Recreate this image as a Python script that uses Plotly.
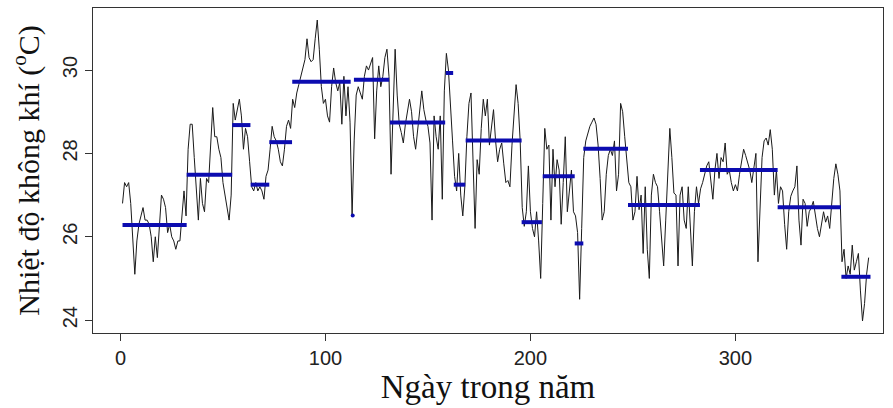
import plotly.graph_objects as go

# Daily air temperature (°C), days 1..365
temp = [
    26.8, 27.3, 27.2, 27.3, 26.8, 25.9, 25.1, 25.9, 26.3, 26.5,
    26.7, 26.4, 26.4, 26.3, 26.0, 25.4, 26.0, 25.5, 26.3, 27.0,
    26.9, 26.7, 26.1, 26.3, 26.0, 25.9, 25.7, 25.9, 25.9, 26.5,
    27.1, 26.5, 28.1, 28.7, 28.7, 27.9, 27.0, 26.4, 27.4, 26.8,
    26.6, 27.4, 27.3, 28.1, 29.1, 28.4, 28.4, 28.1, 27.9, 27.3,
    27.0, 26.6, 26.4, 27.0, 29.2, 28.8, 29.05, 29.3, 28.9, 28.1,
    28.6, 28.4, 27.8, 27.2, 27.1, 27.3, 27.1, 27.2, 27.1, 26.9,
    27.45, 27.6, 28.1, 28.65, 28.4, 28.3, 28.1, 27.8, 27.7, 28.1,
    28.65, 28.8, 28.6, 29.3, 29.1, 29.45, 29.65, 29.85, 30.1, 30.25,
    30.75, 30.3, 30.2, 30.25, 30.75, 31.2, 30.5, 29.6, 29.2, 29.3,
    28.9, 28.75, 29.6, 30.05, 29.7, 29.5, 29.7, 28.7, 29.85, 28.9,
    29.6, 28.75, 26.5, 28.3, 29.4, 29.6, 29.45, 29.3, 29.85, 30.1,
    30.0, 30.15, 30.3, 28.35, 29.5, 30.1, 29.6, 29.85, 30.3, 30.5,
    29.85, 27.5, 28.9, 30.5, 29.4, 28.7, 28.5, 28.25, 28.7, 29.05,
    29.3, 29.0, 28.4, 28.1, 28.6, 29.1, 29.5, 29.05, 28.8, 28.65,
    28.25, 26.4, 28.9, 28.4, 28.1, 28.9, 26.9, 29.5, 30.4, 30.0,
    29.0, 28.3, 27.45, 27.1, 28.0, 27.0, 26.5, 27.2, 28.4, 29.2,
    29.45, 27.8, 26.2, 27.85, 27.5, 28.6, 29.3, 28.9, 29.3, 28.2,
    28.6, 29.05, 28.3, 27.8, 28.1, 28.25, 27.75, 27.3, 27.35, 27.2,
    28.2, 29.0, 29.65, 29.2, 28.3, 26.7, 26.25, 26.6, 27.7, 26.6,
    26.2, 26.0, 26.6, 25.9, 25.0, 26.8, 28.6, 28.1, 28.2, 26.4,
    28.1, 27.2, 27.85, 27.6, 26.3, 27.3, 28.4, 26.6, 27.1, 27.6,
    26.6, 26.5, 26.1, 24.5, 26.2, 27.9, 28.3, 28.5, 28.65, 28.75,
    28.85, 28.7, 28.2, 27.4, 26.4, 26.6, 27.5, 27.95, 28.1, 27.95,
    28.3, 27.1, 27.5, 29.2, 29.0, 28.4, 27.85, 27.3, 27.2, 26.4,
    26.6, 27.45, 26.65, 27.0, 25.6, 27.2, 25.7, 25.0, 27.0, 27.5,
    27.3, 27.2, 26.6, 25.9, 25.3, 26.4, 27.45, 28.6, 27.9, 27.05,
    27.0, 25.3, 27.0, 27.2, 26.4, 26.2, 27.2, 26.3, 25.3, 26.6,
    27.2, 26.8, 27.15, 27.3, 27.5, 27.7, 27.8, 27.4, 26.9, 27.6,
    28.0, 27.4, 27.9, 27.8, 28.25, 27.5, 27.6, 27.3, 27.1, 27.25,
    27.1, 27.5, 27.85, 28.1, 27.95, 27.75, 27.6, 27.3, 27.7, 28.0,
    25.4, 26.9, 27.9, 28.3, 28.37, 28.2, 28.57, 28.1, 27.0, 27.6,
    26.8, 27.2, 27.1, 26.3, 25.7, 26.6, 26.97, 27.1, 27.2, 27.7,
    26.4, 25.8, 26.9, 26.8, 26.25, 26.6, 26.7, 26.85, 26.5, 26.2,
    26.0, 26.3, 26.6, 26.35, 26.5, 26.2, 26.9, 27.4, 27.75, 27.5,
    27.1, 25.4, 25.7, 25.0, 25.3, 25.1, 25.8, 25.2, 25.4, 25.6,
    24.7, 23.98, 24.4, 25.1, 25.5,
]
days = list(range(1, len(temp) + 1))

# Segment (regime) means: start day, end day, mean level
seg_start = [1, 32.3, 54.5, 63.5, 72.6, 83.8, 113.3, 113.9, 131.5, 158.7,
             162.6, 168.4, 195.7, 206.0, 221.6, 225.8, 247.6, 282.7, 320.6, 351.7]
seg_end = [32.3, 54.5, 63.4, 72.6, 83.7, 112.3, 113.3, 131.1, 158.4, 162.3,
           168.2, 195.7, 205.6, 221.6, 225.8, 247.6, 282.7, 320.6, 351.5, 365.9]
seg_mean = [26.28, 27.49, 28.68, 27.25, 28.27, 29.72, 26.51, 29.77, 28.74, 29.93,
            27.25, 28.31, 26.35, 27.45, 25.84, 28.11, 26.76, 27.60, 26.71, 25.04]

x_ticks = [0, 100, 200, 300]
y_ticks = [24, 26, 28, 30]
x_range = [-13.4, 372.0]

BLUE = "#0c0cb0"

fig = go.Figure()
fig.add_trace(go.Scatter(x=days, y=temp, mode="lines",
                         line=dict(color="#1a1a1a", width=1),
                         hoverinfo="skip", showlegend=False))

sx, sy = [], []
for a, b, m in zip(seg_start, seg_end, seg_mean):
    sx += [a, b, None]
    sy += [m, m, None]
fig.add_trace(go.Scatter(x=sx, y=sy, mode="lines",
                         line=dict(color=BLUE, width=4),
                         hoverinfo="skip", showlegend=False))

dx = [a for a, b in zip(seg_start, seg_end) if a == b]
dy = [m for a, b, m in zip(seg_start, seg_end, seg_mean) if a == b]
fig.add_trace(go.Scatter(x=dx, y=dy, mode="markers",
                         marker=dict(color=BLUE, size=4),
                         hoverinfo="skip", showlegend=False))

ymin, ymax = min(temp), max(temp)
ypad = 0.04 * (ymax - ymin)

axis_common = dict(showgrid=False, zeroline=False, showline=True, mirror=True,
                   linecolor="#333333", linewidth=1, ticks="outside", ticklen=7,
                   tickcolor="#333333", tickwidth=1,
                   tickfont=dict(family="Liberation Sans, Arial", size=20, color="#222222"))

fig.update_layout(
    width=893, height=408,
    margin=dict(l=93, r=10, t=8, b=75),
    paper_bgcolor="white", plot_bgcolor="white",
    xaxis=dict(range=x_range, tickvals=x_ticks,
               title=dict(text="Ngày trong năm",
                          font=dict(family="Liberation Serif, Times New Roman", size=33, color="#111111"),
                          standoff=4),
               **axis_common),
    yaxis=dict(range=[ymin - ypad, ymax + ypad], tickvals=y_ticks, tickangle=-90,
               title=dict(text="Nhiệt độ không khí (<sup>o</sup>C)",
                          font=dict(family="Liberation Serif, Times New Roman", size=30, color="#111111"),
                          standoff=10),
               **axis_common),
)

fig.write_html("out.html")
